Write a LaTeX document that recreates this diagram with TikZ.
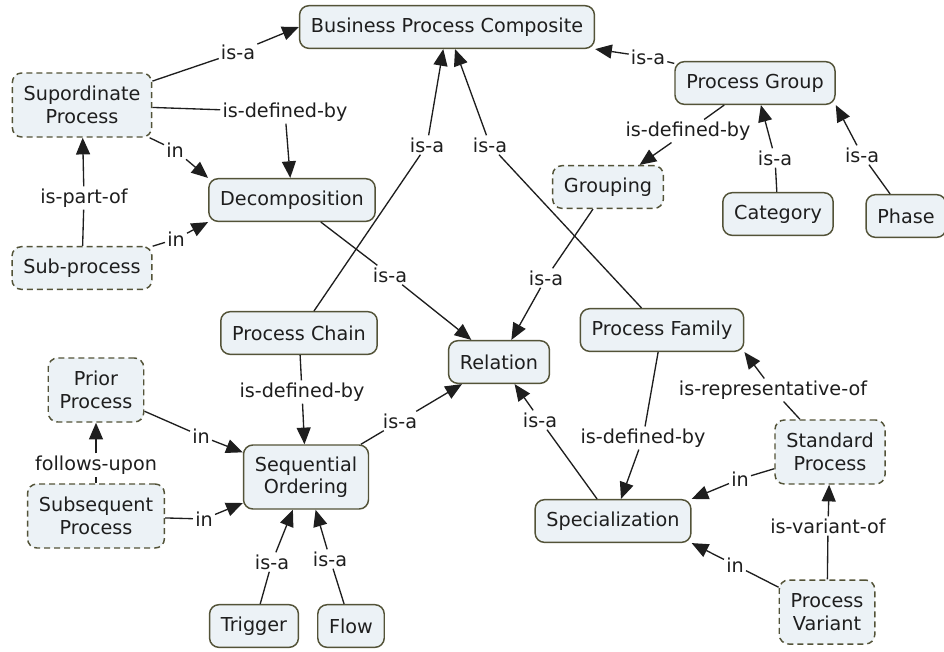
\documentclass[tikz,border=0pt]{standalone}
\usepackage{fontspec}
\setmainfont{DejaVu Sans}
\usetikzlibrary{arrows.meta}
\definecolor{boxfill}{HTML}{ECF2F6}
\definecolor{boxline}{HTML}{535338}
\definecolor{ink}{HTML}{1E1E1E}

\tikzset{
  cbox/.style={draw=boxline, fill=boxfill, line width=1.1pt, rounded corners=7pt,
    inner xsep=8.5pt, minimum height=32pt, align=center, text=ink},
  dashbox/.style={cbox, dash pattern=on 4.5pt off 3pt},
  twoline/.style={minimum height=48pt},
  lbl/.style={fill=white, inner sep=1.5pt, text=ink},
  link/.style={line width=1pt, draw=ink},
  arr/.style={link, -{Triangle[length=12.5pt,width=10.5pt]}},
}

\begin{document}
\begin{tikzpicture}[x=0.75pt, y=-0.75pt, font=\fontsize{14.4}{16.8}\selectfont]
\useasboundingbox (0,0) rectangle (944,651);

% Concepts
\node[cbox] (bpc) at (447,27) {Business Process Composite};
\node[dashbox, twoline] (sup) at (82,105) {Supordinate\\Process};
\node[cbox] (pgroup) at (755,83) {Process Group};
\node[cbox] (decomp) at (292,200) {Decomposition};
\node[dashbox] (grouping) at (608,187) {Grouping};
\node[cbox] (category) at (778,214) {Category};
\node[cbox] (phase) at (906,216) {Phase};
\node[dashbox] (subproc) at (82,268) {Sub-process};
\node[cbox] (pchain) at (299,333) {Process Chain};
\node[cbox] (relation) at (499,362) {Relation};
\node[cbox] (pfamily) at (662,330) {Process Family};
\node[dashbox, twoline] (prior) at (96,390) {Prior\\Process};
\node[cbox, twoline] (seq) at (306,477) {Sequential\\Ordering};
\node[dashbox, twoline] (standard) at (830,452) {Standard\\Process};
\node[dashbox, twoline] (subseq) at (96,516) {Subsequent\\Process};
\node[cbox] (special) at (613,521) {Specialization};
\node[cbox] (trigger) at (254,626) {Trigger};
\node[cbox] (flow) at (351,626) {Flow};
\node[dashbox, twoline] (variant) at (827,612) {Process\\Variant};

% Linking phrases
\node[lbl] (l1) at (238,52) {is-a};
\node[lbl] (l2) at (285,112) {is-defined-by};
\node[lbl] (l3) at (175,150) {in};
\node[lbl] (l4) at (84,198) {is-part-of};
\node[lbl] (l5) at (176,239) {in};
\node[lbl] (l6) at (390,275) {is-a};
\node[lbl] (l7) at (427,145) {is-a};
\node[lbl] (l8) at (490,145) {is-a};
\node[lbl] (l9) at (546,278) {is-a};
\node[lbl] (l10) at (648,57) {is-a};
\node[lbl] (l11) at (688,131) {is-defined-by};
\node[lbl] (l12) at (775,158) {is-a};
\node[lbl] (l13) at (862,155) {is-a};
\node[lbl] (l14) at (302,392) {is-defined-by};
\node[lbl] (l15) at (201,436) {in};
\node[lbl] (l16) at (204,519) {in};
\node[lbl] (l17) at (400,421) {is-a};
\node[lbl] (l18) at (96,465) {follows-upon};
\node[lbl] (l19) at (272,562) {is-a};
\node[lbl] (l20) at (330,559) {is-a};
\node[lbl] (l21) at (540,420) {is-a};
\node[lbl] (l22) at (643,438) {is-defined-by};
\node[lbl] (l23) at (773,390) {is-representative-of};
\node[lbl] (l24) at (740,479) {in};
\node[lbl] (l25) at (828,526) {is-variant-of};
\node[lbl] (l26) at (735,565) {in};

% Connections
\draw[link] (sup) -- (l1); \draw[arr] (l1) -- (bpc.west);
\draw[link] (sup) -- (l2); \draw[arr] (l2) -- (decomp);
\draw[link] (sup) -- (l3); \draw[arr] (l3) -- (decomp.north west);
\draw[link] (subproc) -- (l4); \draw[arr] (l4) -- (sup);
\draw[link] (subproc) -- (l5); \draw[arr] (l5) -- (decomp.south west);
\draw[link] (decomp) -- (l6); \draw[arr] (l6) -- (relation);
\draw[link] (pchain) -- (l7); \draw[arr] (l7) -- (bpc);
\draw[link] (pfamily) -- (l8); \draw[arr] (l8) -- (bpc);
\draw[link] (grouping) -- (l9); \draw[arr] (l9) -- (relation);
\draw[link] (pgroup) -- (l10); \draw[arr] (l10) -- (bpc.south east);
\draw[link] (pgroup) -- (l11); \draw[arr] (l11) -- (grouping);
\draw[link] (category) -- (l12); \draw[arr] (l12) -- (pgroup);
\draw[link] (phase) -- (l13); \draw[arr] (l13) -- (pgroup.south east);
\draw[link] (pchain) -- (l14); \draw[arr] (l14) -- (seq);
\draw[link] (prior) -- (l15); \draw[arr] (l15) -- (seq);
\draw[link] (subseq) -- (l16); \draw[arr] (l16) -- (seq);
\draw[link] (seq) -- (l17); \draw[arr] (l17) -- (relation);
\draw[link] (subseq) -- (l18); \draw[arr] (l18) -- (prior);
\draw[link] (trigger) -- (l19); \draw[arr] (l19) -- (seq);
\draw[link] (flow) -- (l20); \draw[arr] (l20) -- (seq);
\draw[link] (special) -- (l21); \draw[arr] (l21) -- (relation);
\draw[link] (pfamily) -- (l22); \draw[arr] (l22) -- (special);
\draw[link] (standard) -- (l23); \draw[arr] (l23) -- (pfamily.south east);
\draw[link] (standard) -- (l24); \draw[arr] (l24) -- (special.north east);
\draw[link] (variant) -- (l25); \draw[arr] (l25) -- (standard);
\draw[link] (variant) -- (l26); \draw[arr] (l26) -- (special.south east);
\end{tikzpicture}
\end{document}
